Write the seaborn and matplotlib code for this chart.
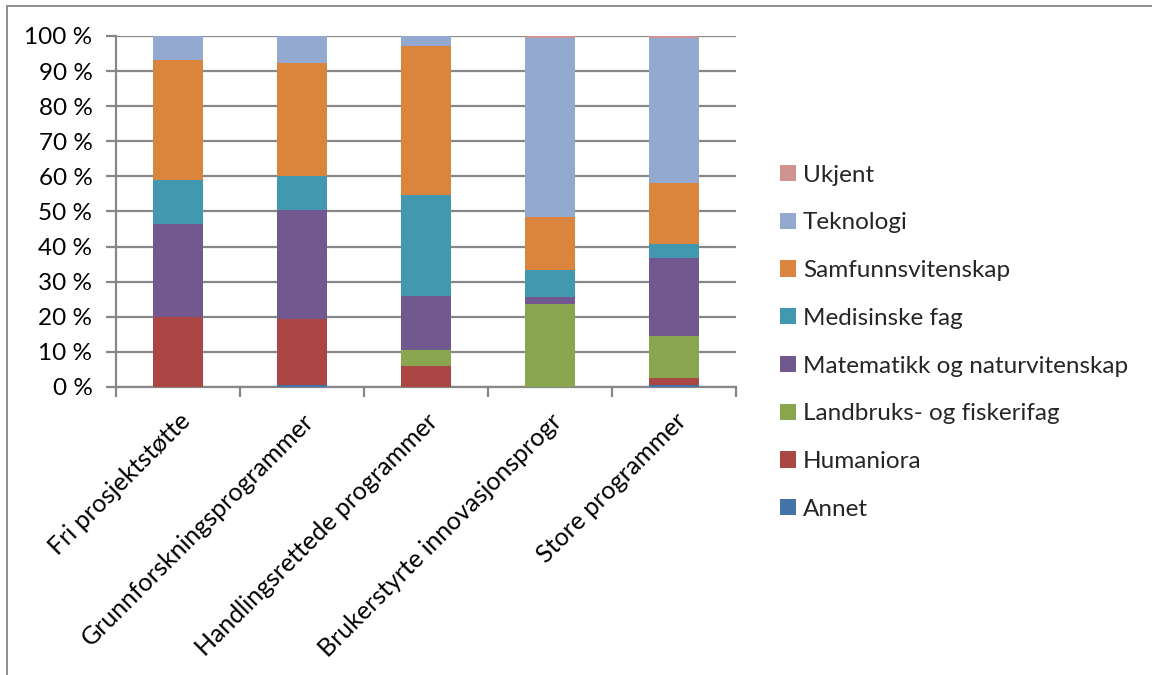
import matplotlib
matplotlib.use("Agg")
import matplotlib.pyplot as plt
from matplotlib.patches import Patch, Rectangle
import seaborn as sns
import pandas as pd
import numpy as np

# Share of each subject field per funding instrument (percent)
categories = ["Fri prosjektstøtte", "Grunnforskningsprogrammer",
              "Handlingsrettede programmer", "Brukerstyrte innovasjonsprogr",
              "Store programmer"]
annet      = [0.0, 0.5, 0.0, 0.0, 0.5]
humaniora  = [19.8, 19.0, 6.0, 0.0, 2.1]
landbruk   = [0.2, 0.0, 4.5, 23.6, 11.8]
matematikk = [26.3, 31.0, 15.4, 2.0, 22.4]
medisin    = [12.7, 9.6, 28.8, 7.6, 3.9]
samfunn    = [34.2, 32.3, 42.5, 15.2, 17.3]
teknologi  = [6.8, 7.6, 2.8, 51.1, 41.5]
ukjent     = [0.0, 0.0, 0.0, 0.5, 0.5]

series_names = ["Annet", "Humaniora", "Landbruks- og fiskerifag",
                "Matematikk og naturvitenskap", "Medisinske fag",
                "Samfunnsvitenskap", "Teknologi", "Ukjent"]
series_values = [annet, humaniora, landbruk, matematikk, medisin,
                 samfunn, teknologi, ukjent]
colors = ["#4572A7", "#AA4643", "#89A54E", "#71588F", "#4198AF",
          "#DB843D", "#93A9CF", "#D19392"]
yticks = [0, 10, 20, 30, 40, 50, 60, 70, 80, 90, 100]

sns.set_theme(style="white")
plt.rcParams["font.family"] = ["Lato", "DejaVu Sans"]

FS = 17.5

fig = plt.figure(figsize=(11.52, 6.75), dpi=100)
ax = fig.add_axes([0.1007, 0.4267, 0.5382, 0.52])

# Cumulative stacks, drawn from the topmost series down so each lower
# series covers the part of the bar that belongs to it.
df = pd.DataFrame({name: vals for name, vals in zip(series_names, series_values)},
                  index=categories)
cum = df.cumsum(axis=1)
for name, col in reversed(list(zip(series_names, colors))):
    d = pd.DataFrame({"kategori": categories, "andel": cum[name].values})
    sns.barplot(data=d, x="kategori", y="andel", color=col, width=0.4,
                saturation=1, edgecolor="none", ax=ax, zorder=3)

grid_c = "#878787"
ax.set_ylim(0, 100)
ax.set_xlim(-0.5, len(categories) - 0.5)
ax.set_yticks(yticks)
ax.set_yticklabels([f"{v} %" for v in yticks])
ax.yaxis.grid(True, color=grid_c, linewidth=1.6, zorder=0)
ax.set_axisbelow(True)
for s in ["top", "right"]:
    ax.spines[s].set_visible(False)
for s in ["left", "bottom"]:
    ax.spines[s].set_color(grid_c)
    ax.spines[s].set_linewidth(1.6)
ax.set_xlabel("")
ax.set_ylabel("")

ax.tick_params(axis="y", length=7, width=1.6, color=grid_c, labelsize=FS,
               pad=10, left=True, labelcolor="black")
ax.set_xticks(range(len(categories)))
ax.set_xticklabels(categories, rotation=45, ha="right", va="top",
                   rotation_mode="anchor", fontsize=18)
ax.tick_params(axis="x", length=0, pad=16, labelcolor="black")
# tick marks between categories on the x axis
ax.set_xticks(np.arange(-0.5, len(categories)), minor=True)
ax.tick_params(axis="x", which="minor", length=7, width=1.6, color=grid_c,
               bottom=True)

handles = [Patch(facecolor=c, edgecolor="none") for c in colors]
leg = fig.legend(handles[::-1], series_names[::-1], loc="center left",
                 bbox_to_anchor=(0.658, 0.493), frameon=False, fontsize=FS,
                 handlelength=0.65, handleheight=0.65, handletextpad=0.3,
                 labelspacing=1.1)

# outer chart frame
fig.patches.append(Rectangle((7 / 1152, -0.1), 1.2, 1 - 6 / 675 + 0.1,
                             transform=fig.transFigure, fill=False,
                             edgecolor="#878787", linewidth=1.3))

fig.savefig("out.png", dpi=100)
